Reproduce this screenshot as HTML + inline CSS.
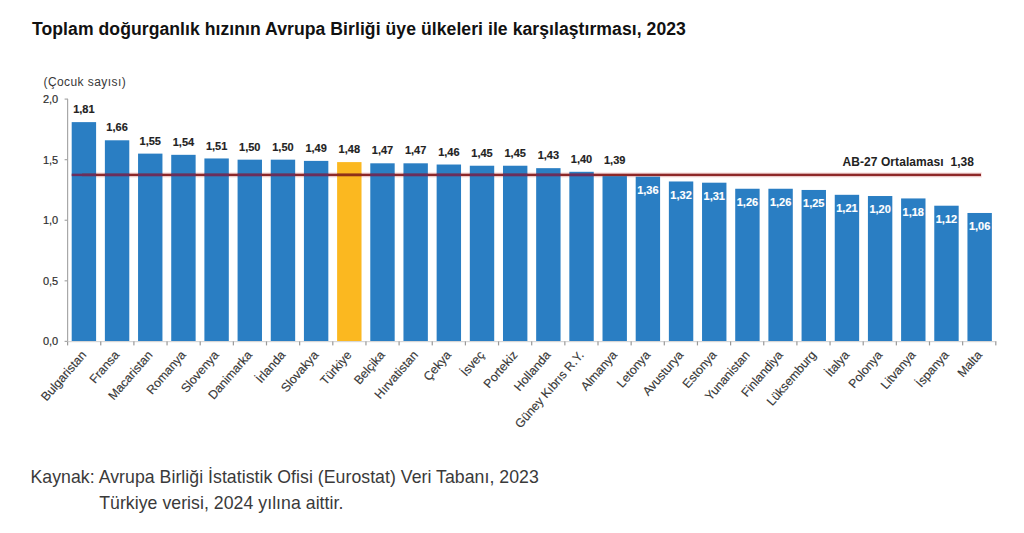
<!DOCTYPE html>
<html><head><meta charset="utf-8"><style>
html,body{margin:0;padding:0;background:#fff;width:1024px;height:533px;overflow:hidden}
body{position:relative;font-family:"Liberation Sans",sans-serif}
.t{position:absolute;left:32px;top:19.3px;letter-spacing:0.055px;font-size:17.6px;font-weight:bold;color:#111;white-space:nowrap}
.f{position:absolute;font-size:17.7px;letter-spacing:0.04px;color:#3a3a3a;white-space:nowrap}
svg{position:absolute;left:0;top:0}
svg text{font-family:"Liberation Sans",sans-serif}
.yl{font-size:11px;fill:#2e2e2e;stroke:#2e2e2e;stroke-width:0.2px}
.vl{font-size:11px;font-weight:bold;fill:#222;stroke:#222;stroke-width:0.15px}
.cl{font-size:12.3px;fill:#383838;stroke:#383838;stroke-width:0.15px}
.un{font-size:12px;letter-spacing:0.42px;fill:#383838}
.avg{font-size:12px;letter-spacing:0.06px;font-weight:bold;fill:#222}
</style></head><body>
<div class="t">Toplam doğurganlık hızının Avrupa Birliği üye ülkeleri ile karşılaştırması, 2023</div>
<svg width="1024" height="533" viewBox="0 0 1024 533">
<text x="43.5" y="86" class="un">(Çocuk sayısı)</text>
<text x="974" y="166" text-anchor="end" class="avg" style="white-space:pre">AB-27 Ortalaması  1,38</text>
<rect x="81" y="172.2" width="901" height="5.4" fill="#fbe6e6"/>
<rect x="71.70" y="122.12" width="24.4" height="219.28" fill="#2a7ec3"/>
<rect x="104.88" y="140.29" width="24.4" height="201.11" fill="#2a7ec3"/>
<rect x="138.05" y="153.62" width="24.4" height="187.78" fill="#2a7ec3"/>
<rect x="171.23" y="154.83" width="24.4" height="186.57" fill="#2a7ec3"/>
<rect x="204.40" y="158.46" width="24.4" height="182.94" fill="#2a7ec3"/>
<rect x="237.58" y="159.67" width="24.4" height="181.73" fill="#2a7ec3"/>
<rect x="270.76" y="159.67" width="24.4" height="181.73" fill="#2a7ec3"/>
<rect x="303.93" y="160.89" width="24.4" height="180.51" fill="#2a7ec3"/>
<rect x="337.11" y="162.10" width="24.4" height="179.30" fill="#fbb820"/>
<rect x="370.28" y="163.31" width="24.4" height="178.09" fill="#2a7ec3"/>
<rect x="403.46" y="163.31" width="24.4" height="178.09" fill="#2a7ec3"/>
<rect x="436.64" y="164.52" width="24.4" height="176.88" fill="#2a7ec3"/>
<rect x="469.81" y="165.73" width="24.4" height="175.67" fill="#2a7ec3"/>
<rect x="502.99" y="165.73" width="24.4" height="175.67" fill="#2a7ec3"/>
<rect x="536.16" y="168.16" width="24.4" height="173.24" fill="#2a7ec3"/>
<rect x="569.34" y="171.79" width="24.4" height="169.61" fill="#2a7ec3"/>
<rect x="602.51" y="176.10" width="24.4" height="165.30" fill="#2a7ec3"/>
<rect x="635.69" y="176.64" width="24.4" height="164.76" fill="#2a7ec3"/>
<rect x="668.87" y="181.48" width="24.4" height="159.92" fill="#2a7ec3"/>
<rect x="702.04" y="182.69" width="24.4" height="158.71" fill="#2a7ec3"/>
<rect x="735.22" y="188.75" width="24.4" height="152.65" fill="#2a7ec3"/>
<rect x="768.39" y="188.75" width="24.4" height="152.65" fill="#2a7ec3"/>
<rect x="801.57" y="189.96" width="24.4" height="151.44" fill="#2a7ec3"/>
<rect x="834.75" y="194.81" width="24.4" height="146.59" fill="#2a7ec3"/>
<rect x="867.92" y="196.02" width="24.4" height="145.38" fill="#2a7ec3"/>
<rect x="901.10" y="198.44" width="24.4" height="142.96" fill="#2a7ec3"/>
<rect x="934.27" y="205.71" width="24.4" height="135.69" fill="#2a7ec3"/>
<rect x="967.45" y="212.98" width="24.4" height="128.42" fill="#2a7ec3"/>
<rect x="67" y="99" width="1.2" height="243.0" fill="#a8a8a8"/>
<rect x="64.6" y="340.80" width="3.4" height="1.2" fill="#a8a8a8"/>
<text x="58.2" y="345.2" text-anchor="end" class="yl">0,0</text>
<rect x="64.6" y="280.22" width="3.4" height="1.2" fill="#a8a8a8"/>
<text x="58.2" y="284.6" text-anchor="end" class="yl">0,5</text>
<rect x="64.6" y="219.65" width="3.4" height="1.2" fill="#a8a8a8"/>
<text x="58.2" y="224.0" text-anchor="end" class="yl">1,0</text>
<rect x="64.6" y="159.07" width="3.4" height="1.2" fill="#a8a8a8"/>
<text x="58.2" y="163.5" text-anchor="end" class="yl">1,5</text>
<rect x="64.6" y="98.50" width="3.4" height="1.2" fill="#a8a8a8"/>
<text x="58.2" y="102.9" text-anchor="end" class="yl">2,0</text>
<rect x="67" y="341.00" width="929.4" height="1.2" fill="#d6d6d6"/>
<rect x="67.00" y="341.40" width="1.2" height="4" fill="#9a9a9a"/>
<rect x="100.15" y="341.40" width="1.2" height="4" fill="#9a9a9a"/>
<rect x="133.30" y="341.40" width="1.2" height="4" fill="#9a9a9a"/>
<rect x="166.45" y="341.40" width="1.2" height="4" fill="#9a9a9a"/>
<rect x="199.60" y="341.40" width="1.2" height="4" fill="#9a9a9a"/>
<rect x="232.75" y="341.40" width="1.2" height="4" fill="#9a9a9a"/>
<rect x="265.90" y="341.40" width="1.2" height="4" fill="#9a9a9a"/>
<rect x="299.05" y="341.40" width="1.2" height="4" fill="#9a9a9a"/>
<rect x="332.20" y="341.40" width="1.2" height="4" fill="#9a9a9a"/>
<rect x="365.35" y="341.40" width="1.2" height="4" fill="#9a9a9a"/>
<rect x="398.50" y="341.40" width="1.2" height="4" fill="#9a9a9a"/>
<rect x="431.65" y="341.40" width="1.2" height="4" fill="#9a9a9a"/>
<rect x="464.80" y="341.40" width="1.2" height="4" fill="#9a9a9a"/>
<rect x="497.95" y="341.40" width="1.2" height="4" fill="#9a9a9a"/>
<rect x="531.10" y="341.40" width="1.2" height="4" fill="#9a9a9a"/>
<rect x="564.25" y="341.40" width="1.2" height="4" fill="#9a9a9a"/>
<rect x="597.40" y="341.40" width="1.2" height="4" fill="#9a9a9a"/>
<rect x="630.55" y="341.40" width="1.2" height="4" fill="#9a9a9a"/>
<rect x="663.70" y="341.40" width="1.2" height="4" fill="#9a9a9a"/>
<rect x="696.85" y="341.40" width="1.2" height="4" fill="#9a9a9a"/>
<rect x="730.00" y="341.40" width="1.2" height="4" fill="#9a9a9a"/>
<rect x="763.15" y="341.40" width="1.2" height="4" fill="#9a9a9a"/>
<rect x="796.30" y="341.40" width="1.2" height="4" fill="#9a9a9a"/>
<rect x="829.45" y="341.40" width="1.2" height="4" fill="#9a9a9a"/>
<rect x="862.60" y="341.40" width="1.2" height="4" fill="#9a9a9a"/>
<rect x="895.75" y="341.40" width="1.2" height="4" fill="#9a9a9a"/>
<rect x="928.90" y="341.40" width="1.2" height="4" fill="#9a9a9a"/>
<rect x="962.05" y="341.40" width="1.2" height="4" fill="#9a9a9a"/>
<rect x="995.20" y="341.40" width="1.2" height="4" fill="#9a9a9a"/>
<rect x="82" y="173.65" width="899" height="2.5" fill="#8e2828"/>
<rect x="71.70" y="173.65" width="24.4" height="2.5" fill="#6a2e5e"/>
<rect x="104.88" y="173.65" width="24.4" height="2.5" fill="#6a2e5e"/>
<rect x="138.05" y="173.65" width="24.4" height="2.5" fill="#6a2e5e"/>
<rect x="171.23" y="173.65" width="24.4" height="2.5" fill="#6a2e5e"/>
<rect x="204.40" y="173.65" width="24.4" height="2.5" fill="#6a2e5e"/>
<rect x="237.58" y="173.65" width="24.4" height="2.5" fill="#6a2e5e"/>
<rect x="270.76" y="173.65" width="24.4" height="2.5" fill="#6a2e5e"/>
<rect x="303.93" y="173.65" width="24.4" height="2.5" fill="#6a2e5e"/>
<rect x="337.11" y="173.65" width="24.4" height="2.5" fill="#8e3018"/>
<rect x="370.28" y="173.65" width="24.4" height="2.5" fill="#6a2e5e"/>
<rect x="403.46" y="173.65" width="24.4" height="2.5" fill="#6a2e5e"/>
<rect x="436.64" y="173.65" width="24.4" height="2.5" fill="#6a2e5e"/>
<rect x="469.81" y="173.65" width="24.4" height="2.5" fill="#6a2e5e"/>
<rect x="502.99" y="173.65" width="24.4" height="2.5" fill="#6a2e5e"/>
<rect x="536.16" y="173.65" width="24.4" height="2.5" fill="#6a2e5e"/>
<rect x="569.34" y="173.65" width="24.4" height="2.5" fill="#6a2e5e"/>
<text x="83.90" y="113.1" text-anchor="middle" class="vl">1,81</text>
<text x="117.08" y="131.3" text-anchor="middle" class="vl">1,66</text>
<text x="150.25" y="144.6" text-anchor="middle" class="vl">1,55</text>
<text x="183.43" y="145.8" text-anchor="middle" class="vl">1,54</text>
<text x="216.60" y="149.5" text-anchor="middle" class="vl">1,51</text>
<text x="249.78" y="150.7" text-anchor="middle" class="vl">1,50</text>
<text x="282.96" y="150.7" text-anchor="middle" class="vl">1,50</text>
<text x="316.13" y="151.9" text-anchor="middle" class="vl">1,49</text>
<text x="349.31" y="153.1" text-anchor="middle" class="vl">1,48</text>
<text x="382.48" y="154.3" text-anchor="middle" class="vl">1,47</text>
<text x="415.66" y="154.3" text-anchor="middle" class="vl">1,47</text>
<text x="448.84" y="155.5" text-anchor="middle" class="vl">1,46</text>
<text x="482.01" y="156.7" text-anchor="middle" class="vl">1,45</text>
<text x="515.19" y="156.7" text-anchor="middle" class="vl">1,45</text>
<text x="548.36" y="159.2" text-anchor="middle" class="vl">1,43</text>
<text x="581.54" y="162.8" text-anchor="middle" class="vl">1,40</text>
<text x="614.71" y="164.0" text-anchor="middle" class="vl">1,39</text>
<text x="647.89" y="193.7" text-anchor="middle" class="vl" fill="#fff" style="fill:#fff;stroke:#fff">1,36</text>
<text x="681.07" y="198.6" text-anchor="middle" class="vl" fill="#fff" style="fill:#fff;stroke:#fff">1,32</text>
<text x="714.24" y="199.8" text-anchor="middle" class="vl" fill="#fff" style="fill:#fff;stroke:#fff">1,31</text>
<text x="747.42" y="205.9" text-anchor="middle" class="vl" fill="#fff" style="fill:#fff;stroke:#fff">1,26</text>
<text x="780.59" y="205.9" text-anchor="middle" class="vl" fill="#fff" style="fill:#fff;stroke:#fff">1,26</text>
<text x="813.77" y="207.1" text-anchor="middle" class="vl" fill="#fff" style="fill:#fff;stroke:#fff">1,25</text>
<text x="846.95" y="211.9" text-anchor="middle" class="vl" fill="#fff" style="fill:#fff;stroke:#fff">1,21</text>
<text x="880.12" y="213.1" text-anchor="middle" class="vl" fill="#fff" style="fill:#fff;stroke:#fff">1,20</text>
<text x="913.30" y="215.5" text-anchor="middle" class="vl" fill="#fff" style="fill:#fff;stroke:#fff">1,18</text>
<text x="946.47" y="222.8" text-anchor="middle" class="vl" fill="#fff" style="fill:#fff;stroke:#fff">1,12</text>
<text x="979.65" y="230.1" text-anchor="middle" class="vl" fill="#fff" style="fill:#fff;stroke:#fff">1,06</text>
<text x="86.90" y="355.4" text-anchor="end" class="cl" transform="rotate(-49 86.90 355.4)">Bulgaristan</text>
<text x="120.08" y="355.4" text-anchor="end" class="cl" transform="rotate(-49 120.08 355.4)">Fransa</text>
<text x="153.25" y="355.4" text-anchor="end" class="cl" transform="rotate(-49 153.25 355.4)">Macaristan</text>
<text x="186.43" y="355.4" text-anchor="end" class="cl" transform="rotate(-49 186.43 355.4)">Romanya</text>
<text x="219.60" y="355.4" text-anchor="end" class="cl" transform="rotate(-49 219.60 355.4)">Slovenya</text>
<text x="252.78" y="355.4" text-anchor="end" class="cl" transform="rotate(-49 252.78 355.4)">Danimarka</text>
<text x="285.96" y="355.4" text-anchor="end" class="cl" transform="rotate(-49 285.96 355.4)">İrlanda</text>
<text x="319.13" y="355.4" text-anchor="end" class="cl" transform="rotate(-49 319.13 355.4)">Slovakya</text>
<text x="352.31" y="355.4" text-anchor="end" class="cl" transform="rotate(-49 352.31 355.4)">Türkiye</text>
<text x="385.48" y="355.4" text-anchor="end" class="cl" transform="rotate(-49 385.48 355.4)">Belçika</text>
<text x="418.66" y="355.4" text-anchor="end" class="cl" transform="rotate(-49 418.66 355.4)">Hırvatistan</text>
<text x="451.84" y="355.4" text-anchor="end" class="cl" transform="rotate(-49 451.84 355.4)">Çekya</text>
<text x="485.01" y="355.4" text-anchor="end" class="cl" transform="rotate(-49 485.01 355.4)">İsveç</text>
<text x="518.19" y="355.4" text-anchor="end" class="cl" transform="rotate(-49 518.19 355.4)">Portekiz</text>
<text x="551.36" y="355.4" text-anchor="end" class="cl" transform="rotate(-49 551.36 355.4)">Hollanda</text>
<text x="584.54" y="355.4" text-anchor="end" class="cl" transform="rotate(-49 584.54 355.4)">Güney Kıbrıs R.Y.</text>
<text x="617.71" y="355.4" text-anchor="end" class="cl" transform="rotate(-49 617.71 355.4)">Almanya</text>
<text x="650.89" y="355.4" text-anchor="end" class="cl" transform="rotate(-49 650.89 355.4)">Letonya</text>
<text x="684.07" y="355.4" text-anchor="end" class="cl" transform="rotate(-49 684.07 355.4)">Avusturya</text>
<text x="717.24" y="355.4" text-anchor="end" class="cl" transform="rotate(-49 717.24 355.4)">Estonya</text>
<text x="750.42" y="355.4" text-anchor="end" class="cl" transform="rotate(-49 750.42 355.4)">Yunanistan</text>
<text x="783.59" y="355.4" text-anchor="end" class="cl" transform="rotate(-49 783.59 355.4)">Finlandiya</text>
<text x="816.77" y="355.4" text-anchor="end" class="cl" transform="rotate(-49 816.77 355.4)">Lüksemburg</text>
<text x="849.95" y="355.4" text-anchor="end" class="cl" transform="rotate(-49 849.95 355.4)">İtalya</text>
<text x="883.12" y="355.4" text-anchor="end" class="cl" transform="rotate(-49 883.12 355.4)">Polonya</text>
<text x="916.30" y="355.4" text-anchor="end" class="cl" transform="rotate(-49 916.30 355.4)">Litvanya</text>
<text x="949.47" y="355.4" text-anchor="end" class="cl" transform="rotate(-49 949.47 355.4)">İspanya</text>
<text x="982.65" y="355.4" text-anchor="end" class="cl" transform="rotate(-49 982.65 355.4)">Malta</text>
</svg>
<div class="f" style="left:30.5px;top:466.7px">Kaynak: Avrupa Birliği İstatistik Ofisi (Eurostat) Veri Tabanı, 2023</div>
<div class="f" style="left:99.2px;top:493.1px">Türkiye verisi, 2024 yılına aittir.</div>
</body></html>
